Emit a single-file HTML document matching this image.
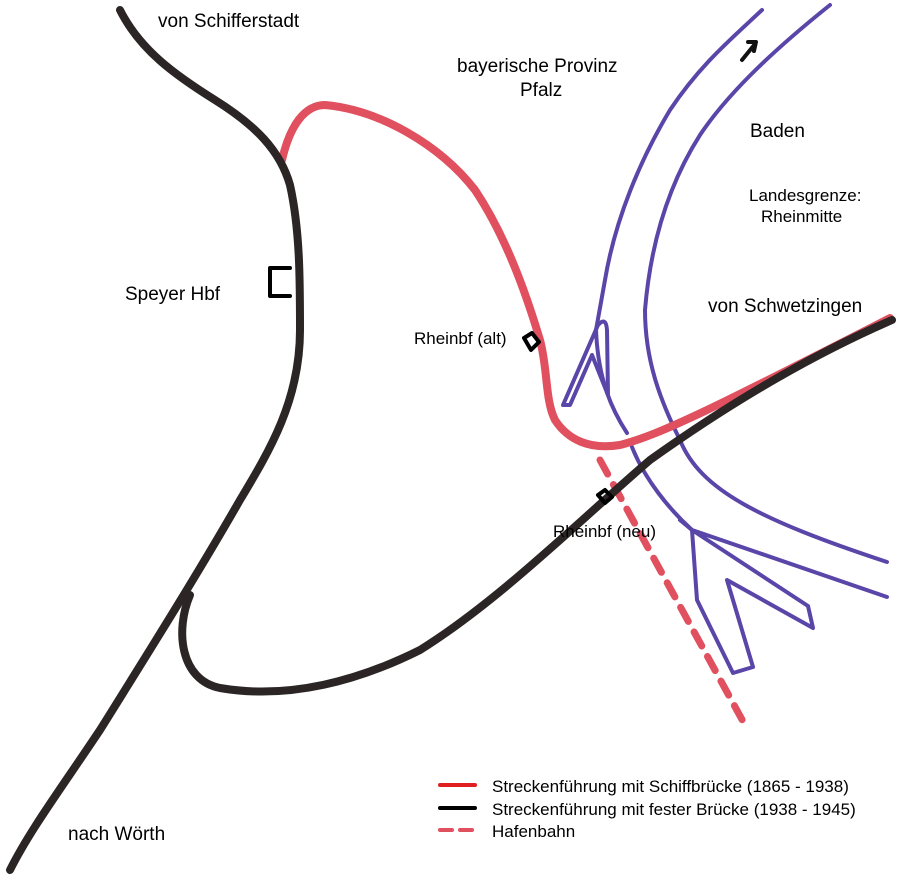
<!DOCTYPE html>
<html><head><meta charset="utf-8"><style>
body{margin:0;background:#fff}
svg{display:block}
text{font-family:"Liberation Sans",sans-serif;fill:#000}
</style></head><body>
<svg width="900" height="881" viewBox="0 0 900 881" xmlns="http://www.w3.org/2000/svg">
<g fill="none" stroke-linecap="round" stroke-linejoin="round">
<g stroke="#5a45a8" stroke-width="4">
<path d="M762,10 C730,40 700,65 670,110 C640,160 615,220 605,280 L596,330"/>
<path d="M830,5 C780,45 730,90 700,135 C665,190 650,250 645,310 C645,360 660,400 680,440 C700,490 760,520 887,562"/>
<path d="M563,405 L598,325 Q606,316 607,330 L608,395 L592,355 L570,405 Z"/>
<path d="M596,330 C598,380 612,410 627,433"/>
<path d="M632,447 C645,480 670,510 692,530 L697,600 L733,673 L753,667 L727,580 L813,628 L808,606 L692,530 L887,597"/>
<path d="M692,530 L680,520"/>
</g>
<path d="M742,60 L755,44 M748,42 L756,42 L754,51" stroke="#111" stroke-width="4"/>
<path d="M282,160 C290,125 305,105 325,105 C380,110 440,145 475,190 C505,235 525,290 540,340 C548,370 545,400 555,420 C568,440 590,450 620,445 C660,435 720,405 890,318" stroke="#e0505f" stroke-width="8"/>
<path d="M600,460 L745,725" stroke="#e0505f" stroke-width="7" stroke-dasharray="16,12"/>
<g stroke="#2b2526" stroke-width="8">
<path d="M120,10 C140,50 175,75 215,100 C255,125 280,150 290,185 C300,230 300,280 300,330 C300,400 270,450 240,500 C200,570 150,650 100,730 C60,790 30,830 10,870"/>
<path d="M190,595 C175,630 180,680 220,688 C290,700 360,680 420,650 C500,600 580,520 650,460 C720,410 800,360 892,320"/>
</g>
<g stroke="#000" stroke-width="4">
<path d="M270,268 L290,268 M270,268 L270,296 L290,296"/>
<path d="M524,338 L532,333 L539,342 L531,350 Z"/>
<path d="M598,495 L605,490 L612,497 L605,503 Z"/>
</g>
<path d="M440,785 L475,785" stroke="#e02020" stroke-width="4"/>
<path d="M440,808 L475,808" stroke="#000" stroke-width="4"/>
<path d="M440,830 L475,830" stroke="#e0505f" stroke-width="4" stroke-dasharray="12,8"/>
</g>
<text x="158" y="27" font-size="19">von Schifferstadt</text>
<text x="457" y="72" font-size="19">bayerische Provinz</text>
<text x="520" y="96" font-size="19">Pfalz</text>
<text x="750" y="137" font-size="19">Baden</text>
<text x="749" y="201" font-size="17">Landesgrenze:</text>
<text x="761" y="222" font-size="17">Rheinmitte</text>
<text x="125" y="300" font-size="19">Speyer Hbf</text>
<text x="708" y="312" font-size="19">von Schwetzingen</text>
<text x="414" y="344" font-size="17">Rheinbf (alt)</text>
<text x="553" y="537" font-size="17">Rheinbf (neu)</text>
<text x="492" y="792" font-size="17">Streckenführung mit Schiffbrücke (1865 - 1938)</text>
<text x="492" y="815" font-size="17">Streckenführung mit fester Brücke (1938 - 1945)</text>
<text x="492" y="837" font-size="17">Hafenbahn</text>
<text x="68" y="840" font-size="19">nach Wörth</text>
</svg>
</body></html>
